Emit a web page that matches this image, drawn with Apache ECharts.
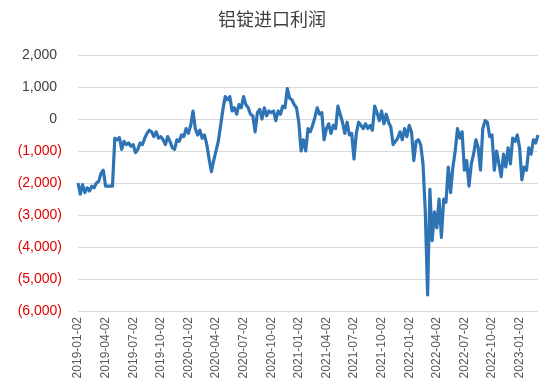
<!DOCTYPE html>
<html>
<head>
<meta charset="utf-8">
<script src="https://cdn.jsdelivr.net/npm/echarts@6/dist/echarts.min.js"></script>
<style>html,body{margin:0;padding:0;background:#fff;}#c{width:544px;height:387px;}</style>
</head>
<body>
<div id="c"></div>
<script>
const titleText = '铝锭进口利润';
// Quarterly tick labels on the x axis
const tickDates = ['2019-01-02','2019-04-02','2019-07-02','2019-10-02','2020-01-02','2020-04-02','2020-07-02','2020-10-02','2021-01-02','2021-04-02','2021-07-02','2021-10-02','2022-01-02','2022-04-02','2022-07-02','2022-10-02','2023-01-02'];
const endDate = '2023-03-03';
const pointsPerQuarter = 12;
// Import profit values (yuan/ton)
const profit = [
-2000,-2350,-2050,-2300,-2150,-2250,-2100,-2150,-2000,-1950,
-1700,-1600,-2100,-2100,-2100,-2100,-600,-650,-580,-950,
-700,-800,-750,-850,-800,-1050,-950,-750,-800,-600,
-450,-350,-400,-550,-400,-600,-550,-650,-800,-550,
-700,-900,-950,-650,-700,-500,-550,-300,-450,-200,
250,-300,-500,-350,-600,-500,-800,-1250,-1650,-1300,
-1000,-700,-200,300,700,600,700,250,350,150,
450,350,700,450,350,150,100,-400,200,300,
0,350,100,250,200,250,-50,250,150,400,
350,950,650,600,450,350,-100,-1000,-650,-1000,
-300,-400,-200,50,350,150,200,-650,-300,-150,
-450,-200,-300,400,150,-100,-450,-100,-500,-450,
-1250,-450,-100,-200,-300,-150,-300,-200,-350,400,
200,-50,250,-150,150,-100,-250,-800,-700,-600,
-400,-650,-300,-550,-200,-400,-1300,-700,-650,-800,
-1400,-2900,-5500,-2200,-3800,-2900,-3400,-2500,-3700,-2500,
-2600,-1500,-2300,-1500,-1000,-300,-600,-400,-1600,-1300,
-2100,-1400,-1100,-650,-900,-1600,-300,-50,-100,-550,
-500,-1600,-1000,-1400,-1800,-1100,-1500,-900,-1400,-600,
-700,-500,-900,-1900,-1500,-1600,-900,-1100,-650,-750,
-500
];
const yTicks = {min: -6000, max: 2000, interval: 1000};

// Build category dates: evenly spaced days between the quarterly tick dates
function parse(s){const p=s.split('-').map(Number);return Date.UTC(p[0],p[1]-1,p[2]);}
function fmt(t){const d=new Date(t);const m=d.getUTCMonth()+1, dd=d.getUTCDate();return d.getUTCFullYear()+'-'+(m<10?'0':'')+m+'-'+(dd<10?'0':'')+dd;}
const bounds = tickDates.concat([endDate]);
const categories = [];
for (let q = 0; q < bounds.length - 1; q++) {
  const a = parse(bounds[q]), b = parse(bounds[q+1]);
  const isLast = q === bounds.length - 2;
  const n = isLast ? (profit.length - 1 - q * pointsPerQuarter) : pointsPerQuarter;
  for (let k = 0; k < n; k++) {
    categories.push(k === 0 ? bounds[q] : fmt(a + Math.round(k * (b - a) / n / 86400000) * 86400000));
  }
}
categories.push(endDate);

function fmtNum(v){
  const s = Math.abs(v).toString().replace(/\B(?=(\d{3})+(?!\d))/g, ',');
  return v < 0 ? '{neg|(' + s + ')}' : '{pos|' + s + '}';
}

const chart = echarts.init(document.getElementById('c'), null, {renderer: 'canvas'});
chart.setOption({
  animation: false,
  backgroundColor: '#ffffff',
  title: {
    text: titleText, left: 'center', top: 5,
    textStyle: {fontSize: 18, fontWeight: 'normal', color: '#404040', fontFamily: '"Noto Sans CJK SC", sans-serif'}
  },
  grid: {left: 78, right: 6, top: 55, bottom: 76, containLabel: false},
  xAxis: {
    type: 'category', data: categories, boundaryGap: false,
    axisLine: {show: false}, axisTick: {show: false},
    axisLabel: {
      rotate: 90, margin: 6, fontSize: 12, color: '#595959', fontFamily: '"Liberation Sans", Arial, sans-serif',
      interval: function(idx, val){ return tickDates.indexOf(val) >= 0; }
    },
    splitLine: {show: false}
  },
  yAxis: {
    type: 'value', min: yTicks.min, max: yTicks.max, interval: yTicks.interval,
    axisLine: {show: false}, axisTick: {show: false},
    splitLine: {lineStyle: {color: '#D9D9D9', width: 1}},
    axisLabel: {
      margin: 16, fontSize: 14, fontFamily: '"Liberation Sans", Arial, sans-serif',
      formatter: fmtNum,
      rich: {
        pos: {color: '#404040', fontSize: 14, padding: [0, 5, 0, 0], fontFamily: '"Liberation Sans", Arial, sans-serif'},
        neg: {color: '#E00000', fontSize: 14, fontFamily: '"Liberation Sans", Arial, sans-serif'}
      }
    }
  },
  series: [{
    type: 'line', data: profit, showSymbol: false, symbol: 'none',
    lineStyle: {color: '#2E74B5', width: 3.2, join: 'round'},
    itemStyle: {color: '#2E74B5'}
  }]
});
</script>
</body>
</html>
